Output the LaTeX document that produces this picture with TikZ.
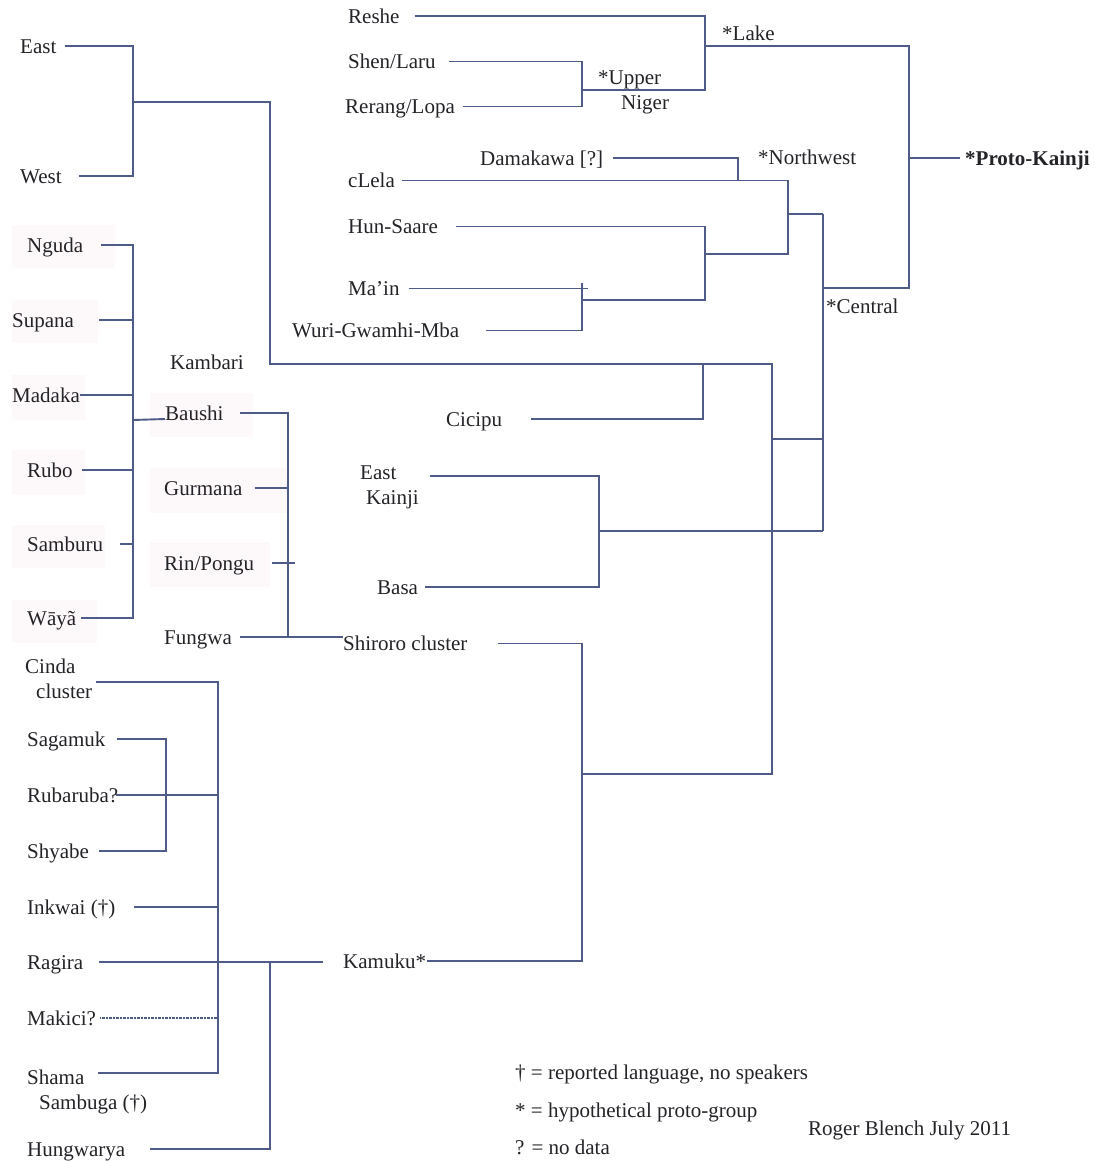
\documentclass[tikz,border=0pt]{standalone}
\usepackage{fontspec}
\setmainfont{Liberation Serif}
\definecolor{lc}{RGB}{78,92,135}
\definecolor{tc}{RGB}{35,35,40}
\definecolor{bgp}{RGB}{253,248,250}
\tikzset{
  lbl/.style={anchor=west, inner sep=0pt, text=tc, font=\fontsize{21}{25}\selectfont,
              text height=14pt, text depth=0pt},
  lbltwo/.style={anchor=north west, inner sep=0pt, text=tc, font=\fontsize{21}{25}\selectfont,
              align=left},
  br/.style={draw=lc, line width=1.9pt},
  dotline/.style={draw=lc, line width=1.9pt, dash pattern=on 0.8pt off 0.6pt},
  shade/.style={fill=bgp},
}
\begin{document}
\begin{tikzpicture}[x=1pt,y=-1pt]
\useasboundingbox[fill=white] (0,0) rectangle (1095,1162);

% faint backgrounds behind some labels
\fill[shade] (12,225) rectangle (115,268);
\fill[shade] (12,300) rectangle (98,343);
\fill[shade] (12,375) rectangle (85,420);
\fill[shade] (12,450) rectangle (85,495);
\fill[shade] (12,525) rectangle (105,568);
\fill[shade] (12,600) rectangle (97,643);
\fill[shade] (150,393) rectangle (253,437);
\fill[shade] (150,468) rectangle (287,513);
\fill[shade] (150,542) rectangle (270,587);

% ---------- labels ----------
\node[lbl] (east) at (20,46) {East};
\node[lbl] (west) at (20,176) {West};
\node[lbl] (nguda) at (27,245) {Nguda};
\node[lbl] (supana) at (12,320) {Supana};
\node[lbl] (madaka) at (12,395) {Madaka};
\node[lbl] (rubo) at (27,470) {Rubo};
\node[lbl] (samburu) at (27,544) {Samburu};
\node[lbl] (waya) at (27,618) {Wāyã};
\node[lbl] (kambari) at (170,362) {Kambari};
\node[lbl] (baushi) at (165,413) {Baushi};
\node[lbl] (gurmana) at (164,488) {Gurmana};
\node[lbl] (rin) at (164,563) {Rin/Pongu};
\node[lbl] (fungwa) at (164,637) {Fungwa};
\node[lbltwo] (cinda) at (25,659) {Cinda\\\hspace*{11pt}cluster};
\node[lbl] (sagamuk) at (27,739) {Sagamuk};
\node[lbl] (rubaruba) at (27,795) {Rubaruba?};
\node[lbl] (shyabe) at (27,851) {Shyabe};
\node[lbl] (inkwai) at (27,907) {Inkwai (†)};
\node[lbl] (ragira) at (27,962) {Ragira};
\node[lbl] (makici) at (27,1018) {Makici?};
\node[lbltwo] (shama) at (27,1070) {Shama\\\hspace*{12pt}Sambuga (†)};
\node[lbl] (hungwarya) at (27,1149) {Hungwarya};

\node[lbl] (reshe) at (348,16) {Reshe};
\node[lbl] (shen) at (348,61.5) {Shen/Laru};
\node[lbl] (rerang) at (345,106.5) {Rerang/Lopa};
\node[lbltwo] (upniger) at (598,71) {*Upper\\\hspace*{23pt}Niger};
\node[lbl] (lake) at (722,33) {*Lake};
\node[lbl] (damakawa) at (480,158) {Damakawa [?]};
\node[lbl] (nw) at (758,157) {*Northwest};
\node[lbl] (clela) at (348,180.5) {cLela};
\node[lbl] (hunsaare) at (348,226.5) {Hun-Saare};
\node[lbl] (main) at (348,288.5) {Ma’in};
\node[lbl] (wuri) at (292,330.5) {Wuri-Gwamhi-Mba};
\node[lbl] (central) at (826,306) {*Central};
\node[lbl, font=\fontsize{21}{25}\selectfont\bfseries] (proto) at (965,158) {*Proto-Kainji};
\node[lbl] (cicipu) at (446,419) {Cicipu};
\node[lbltwo] (eastk) at (360,466) {East\\\hspace*{6pt}Kainji};
\node[lbl] (basa) at (377,587) {Basa};
\node[lbl] (shiroro) at (343,643.5) {Shiroro cluster};
\node[lbl] (kamuku) at (343,961) {Kamuku*};

\node[lbl] (leg1) at (515,1072) {† = reported language, no speakers};
\node[lbl] (leg2) at (515,1110) {* = hypothetical proto-group};
\node[lbl] (leg3) at (515,1147) {? = no data};
\node[lbl] (sig) at (808,1128) {Roger Blench July 2011};

% ---------- junction points ----------
\coordinate (jEW) at (133,102);
\coordinate (elbow) at (270,364);
\coordinate (kTop) at (772,364);
\coordinate (kMid) at (772,439);
\coordinate (kBot) at (772,774);
\coordinate (shJ) at (582,774);
\coordinate (cicJ) at (703,364);
\coordinate (cenTop) at (823,214);
\coordinate (cenMid) at (823,288);
\coordinate (cenK) at (823,439);
\coordinate (cenBot) at (823,531);
\coordinate (lakeJ) at (705,46);
\coordinate (pkBot) at (909,288);
\coordinate (pkJ) at (909,158);
\coordinate (unJ1) at (582,90);
\coordinate (unJ2) at (705,90);
\coordinate (dmJ) at (738,180.5);
\coordinate (nwJ) at (788,214);
\coordinate (nwB) at (788,254);
\coordinate (hsJ) at (705,254);
\coordinate (hsB) at (705,300);
\coordinate (mwJ) at (582,300);
\coordinate (mwT) at (582,283);
\coordinate (mxe) at (588,0);
\coordinate (ekJ) at (599,531);
\coordinate (kbJ) at (288,560);
\coordinate (rinE) at (295,0);
\coordinate (ngJ) at (133,420);
\coordinate (ciJ) at (218,795);
\coordinate (sgJ) at (166,795);
\coordinate (kmE) at (323,0);
\coordinate (rgJ) at (270,962);

% ---------- top-level links ----------
\draw[br] ([xshift=8pt]east.east) -| (jEW) |- ([xshift=17pt]west.east);
\draw[br] (jEW) -| (elbow) -- (kTop) -- (kBot) -- (shJ);
\draw[br] ([xshift=29pt]cicipu.east) -| (cicJ);
\draw[br] (kMid) -- (cenK);
\draw[br] (cenTop) -- (cenBot);
\draw[br] (lakeJ) -| (pkBot) -- (cenMid);
\draw[br] (pkJ) -- ([xshift=-5pt]proto.west);

% Lake group
\draw[br] ([xshift=15pt]reshe.east) -| (unJ2) -- (unJ1);
\draw[br] ([xshift=13pt]shen.east) -| (unJ1) |- ([xshift=8pt]rerang.east);

% Northwest group
\draw[br] ([xshift=10pt]damakawa.east) -| (dmJ);
\draw[br] ([xshift=7pt]clela.east) -| (nwB) -- (hsJ);
\draw[br] (nwJ) -- (cenTop);
\draw[br] ([xshift=18pt]hunsaare.east) -| (hsB) -- (mwJ);
\draw[br] ([xshift=9pt]main.east) -- (main.east -| mxe);
\draw[br] ([xshift=26pt]wuri.east) -| (mwT);

% East Kainji and Basa
\draw[br] ([shift={(11,-12)}]eastk.east) -| (ekJ) |- ([xshift=7pt]basa.east);
\draw[br] (ekJ) -- (cenBot);

% Shiroro and Kamuku
\draw[br] ([xshift=30pt]shiroro.east) -| (shJ) |- ([xshift=1pt]kamuku.east);

% Kambari group
\draw[br] ([xshift=16pt]baushi.east) -| (kbJ) |- ([xshift=8pt]fungwa.east);
\draw[br] ([xshift=12pt]gurmana.east) -- (gurmana.east -| kbJ);
\draw[br] ([xshift=18pt]rin.east) -- (rin.east -| rinE);
\draw[br] ([xshift=8pt]fungwa.east) -- (fungwa.east -| shiroro.west);

\draw[br] ([xshift=18pt]nguda.east) -| (ngJ) |- ([xshift=5pt]waya.east);
\draw[br] ([xshift=25pt]supana.east) -- (supana.east -| ngJ);
\draw[br] (madaka.east) -- (madaka.east -| ngJ);
\draw[br] ([xshift=9pt]rubo.east) -- (rubo.east -| ngJ);
\draw[br] ([xshift=17pt]samburu.east) -- (samburu.east -| ngJ);
\draw[br] (ngJ) -- ([yshift=-6pt]baushi.west);

% Kamuku group
\draw[br] ([shift={(4,3)}]cinda.east) -| (ciJ) |- ([shift={(71,3)}]shama.north west);
\draw[br] ([xshift=11pt]sagamuk.east) -| (sgJ) |- ([xshift=10pt]shyabe.east);
\draw[br] ([xshift=-2pt]rubaruba.east) -- (rubaruba.east -| ciJ);
\draw[br] ([xshift=19pt]inkwai.east) -- (inkwai.east -| ciJ);
\draw[br] ([xshift=16pt]ragira.east) -- (ragira.east -| kmE);
\draw[dotline] ([xshift=4pt]makici.east) -- (makici.east -| ciJ);
\draw[br] ([xshift=25pt]hungwarya.east) -| (rgJ);
\end{tikzpicture}
\end{document}
